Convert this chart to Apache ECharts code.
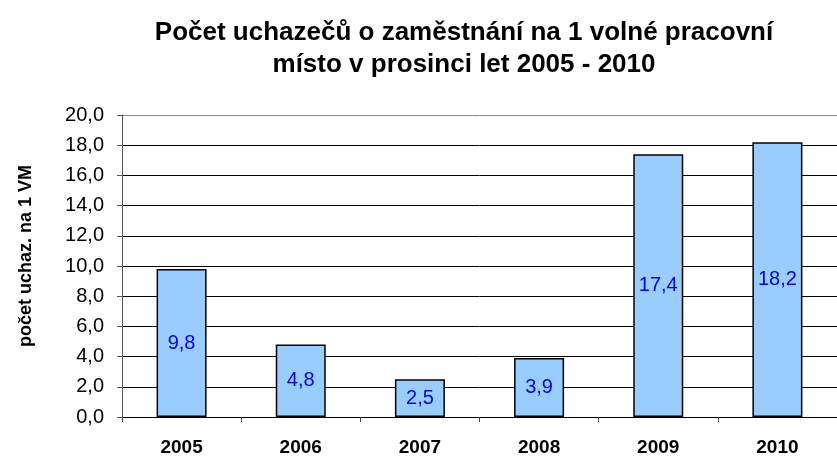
<!DOCTYPE html>
<html><head><meta charset="utf-8">
<script src="https://cdn.jsdelivr.net/npm/echarts@6/dist/echarts.min.js"></script>
<style>html,body{margin:0;padding:0;background:#fff}#c{width:837px;height:457px}</style>
</head><body><div id="c"></div>
<script>
var categories = ['2005','2006','2007','2008','2009','2010'];
var values = [9.8, 4.8, 2.5, 3.9, 17.4, 18.2];
var yName = 'počet uchaz. na 1 VM';
var chart = echarts.init(document.getElementById('c'));
var gridColors = ['#000','#000','#000','#000','#000','#000','#000','#000','#000','#000','#888'];
var font = 'Liberation Sans, Arial, sans-serif';
chart.setOption({
  animation:false,
  title:{
    text:'Počet uchazečů o zaměstnání na 1 volné pracovní\nmísto v prosinci let 2005 - 2010',
    left:459, top:12, textAlign:'center',
    textStyle:{fontFamily:font, fontWeight:'bold', fontSize:26, lineHeight:32, color:'#000'}
  },
  grid:{left:122, right:-11, top:115, bottom:40},
  xAxis:{
    type:'category', data:categories,
    axisLine:{lineStyle:{color:'#000', width:1}},
    axisTick:{show:true, length:5, lineStyle:{color:'#444'}},
    axisLabel:{fontFamily:font, fontWeight:'bold', fontSize:19, color:'#000', margin:21}
  },
  yAxis:{
    type:'value', min:0, max:20, interval:2,
    axisLine:{show:true, lineStyle:{color:'#555', width:1}},
    axisTick:{show:true, length:5, lineStyle:{color:'#555'}},
    axisLabel:{fontFamily:font, fontSize:20, color:'#000', margin:18,
      formatter:function(v){return v.toFixed(1).replace('.',',');}},
    splitLine:{show:true, lineStyle:{color:gridColors, width:1}}
  },
  graphic:[{
    type:'text', x:26, y:256, rotation:Math.PI/2,
    style:{text:yName, font:'bold 18px Liberation Sans, Arial, sans-serif', fill:'#000',
      textAlign:'center', textVerticalAlign:'middle'}
  }],
  series:[{
    type:'bar', data:values, barWidth:50,
    itemStyle:{color:'#99CCFF', borderColor:'#000', borderWidth:1.5},
    label:{show:true, position:'inside', fontFamily:font, fontSize:20, color:'#0000ee',
      formatter:function(p){return p.value.toFixed(1).replace('.',',');}}
  }]
});
</script></body></html>
